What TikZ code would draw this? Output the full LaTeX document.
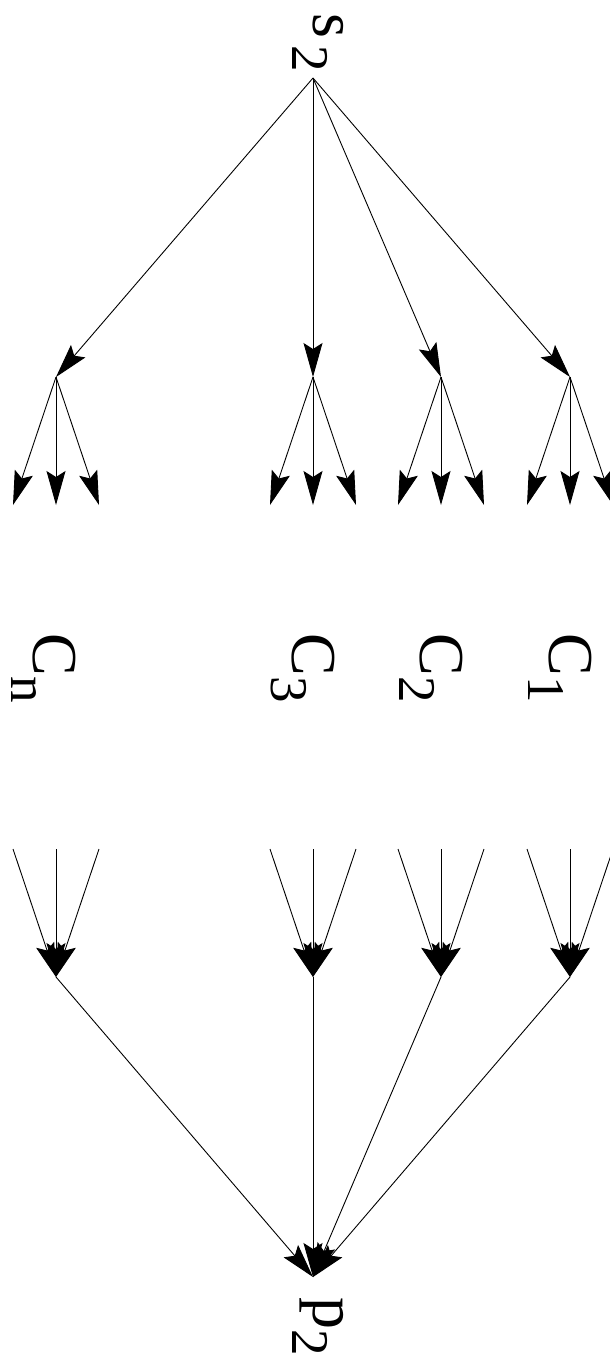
\documentclass[tikz,border=0pt]{standalone}
\usepackage{fontspec}
\setmainfont{Liberation Serif}
\usetikzlibrary{arrows.meta}
\newcommand\lsub[1]{\raisebox{-21pt}{\fontsize{53}{53}\selectfont #1}}
\begin{document}
\begin{tikzpicture}[x=1pt,y=-1pt, line width=0.9pt,
  arr/.style={-{Stealth[length=34pt,width=19pt,inset=6pt]}},
  lbl/.style={rotate=-90,inner sep=0pt,anchor=base west,font=\fontsize{64}{64}\selectfont}]
\useasboundingbox (0,0) rectangle (610,1357);
\clip (0,0) rectangle (610,1357);
\coordinate (s) at (313,78);
\coordinate (p) at (313,1277);
\foreach \i/\x in {n/56,3/313,2/441,1/570} {
  \coordinate (a\i) at (\x,377);
  \coordinate (b\i) at (\x,977);
  \foreach \k/\d in {l/-43,m/0,r/43} {
    \coordinate (t\i\k) at (\x+\d,505);
    \coordinate (u\i\k) at (\x+\d,849);
    \draw[arr] (a\i) -- (t\i\k);
    \draw[arr] (u\i\k) -- (b\i);
  }
  \draw[arr] (s) -- (a\i);
  \draw[arr] (b\i) -- (p);
}
\node[lbl] (lS) at (313,13) {s\kern7pt\lsub{2}};
\node[lbl] (lP) at (313,1297) {p\lsub{2}};
\node[lbl] (lC1) at (549,633) {C\lsub{1}};
\node[lbl] (lC2) at (420,633) {C\lsub{2}};
\node[lbl] (lC3) at (292,633) {C\lsub{3}};
\node[lbl] (lCn) at (33,633) {C\lsub{n}};
\end{tikzpicture}
\end{document}
